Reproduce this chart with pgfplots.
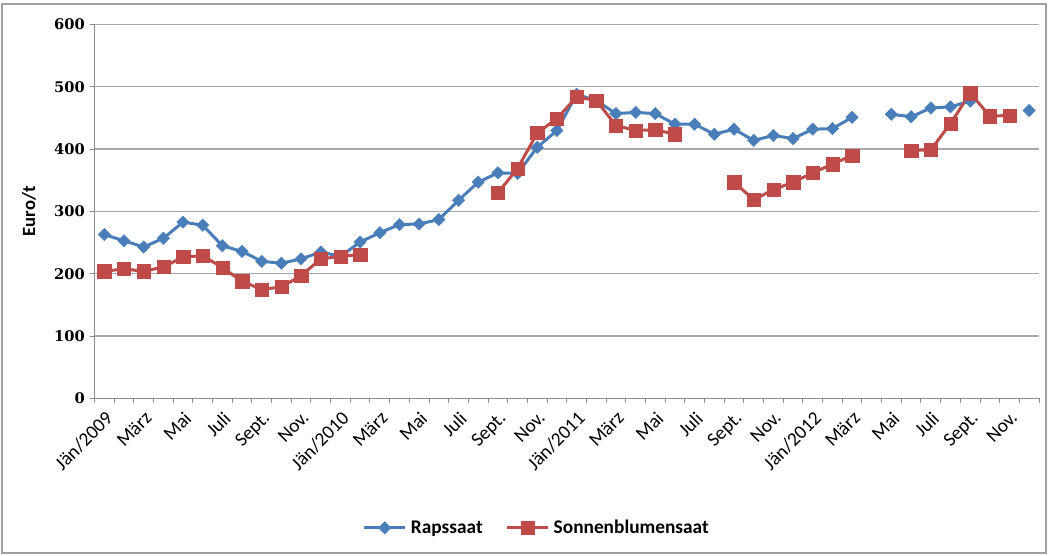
\documentclass[border=0pt]{standalone}
\usepackage{fontspec}
\setmainfont{Carlito}
\newfontfamily\tickserif{DejaVu Serif}
\usepackage{pgfplots}
\usepackage{pgfplotstable}
\pgfplotsset{compat=1.18}
\definecolor{rblue}{RGB}{74,126,187}
\definecolor{rred}{RGB}{190,75,72}
\definecolor{gridgray}{RGB}{170,170,170}
\definecolor{axgray}{RGB}{140,140,140}
\definecolor{framegray}{RGB}{160,160,160}

\pgfplotstableread{
m raps sonne
0 263 204
1 253 208
2 243 204
3 257 211
4 283 227
5 278 229
6 245 210
7 236 188
8 220 175
9 217 179
10 224 197
11 235 224
12 228 228
13 251 231
14 266 nan
15 279 nan
16 280 nan
17 287 nan
18 318 nan
19 347 nan
20 362 330
21 361 369
22 403 426
23 430 449
24 488 484
25 478 478
26 457 438
27 459 430
28 457 431
29 440 424
30 440 nan
31 424 nan
32 432 347
33 414 319
34 422 335
35 417 347
36 432 362
37 433 376
38 451 390
39 nan nan
40 456 nan
41 452 398
42 466 399
43 468 441
44 477 490
45 nan 453
46 nan 454
47 462 nan
}\datatable

\begin{document}
\begin{tikzpicture}
\useasboundingbox (0,0) rectangle (786.75pt,417pt);
\draw[framegray, line width=0.9pt] (1.5pt,2.25pt) rectangle (784.5pt,414pt);
\begin{axis}[
  at={(70.875pt,118.125pt)}, anchor=south west,
  width=708.4pt, height=280.5pt, scale only axis,
  xmin=-0.5, xmax=47.5, ymin=0, ymax=600,
  ytick={0,100,...,600},
  xtick={0,2,...,46},
  xticklabels={Jän/2009,März,Mai,Juli,Sept.,Nov.,Jän/2010,März,Mai,Juli,Sept.,Nov.,Jän/2011,März,Mai,Juli,Sept.,Nov.,Jän/2012,März,Mai,Juli,Sept.,Nov.},
  minor xtick={-0.5,0.5,...,47.5},
  tick align=outside,
  major x tick style={draw=none},
  major tick length=3.75pt, minor tick length=3.75pt,
  tick style={axgray, line width=0.75pt},
  axis x line*=bottom, axis y line*=left,
  axis line style={axgray, line width=1pt, -},
  ymajorgrids, grid style={gridgray, line width=1pt},
  /pgf/number format/assume math mode=true,
  x tick label style={rotate=45, anchor=north east, font=\fontsize{14.5}{14.5}\selectfont, inner sep=3.5pt},
  y tick label style={font=\tickserif\bfseries\fontsize{11}{11}\selectfont},
  ylabel={Euro/t},
  ylabel style={font=\bfseries\fontsize{14}{14}\selectfont, at={(axis description cs:-0.0693,0.5)}, anchor=center},
  unbounded coords=jump,
  legend columns=2,
  legend style={at={(axis description cs:0.4685,-0.346)}, anchor=center, draw=none, fill=none,
    font=\bfseries\fontsize{14.5}{14.5}\selectfont,
    /tikz/every odd column/.append style={column sep=1pt},
    /tikz/every even column/.append style={column sep=15pt}},
  legend image code/.code={\draw[mark repeat=2,mark phase=2,#1] plot coordinates {(0pt,0pt)(15.5pt,0pt)(31pt,0pt)};},
  clip=false,
]
\addplot[rblue, line width=2.25pt, mark=square*, mark size=3.3pt,
  mark options={rotate=45, fill=rblue, draw=rblue, line width=0.3pt}]
  table[x=m, y=raps] {\datatable};
\addlegendentry{Rapssaat}
\addplot[rred, line width=2.25pt, mark=square*, mark size=5pt,
  mark options={fill=rred, draw=rred, line width=0.3pt}]
  table[x=m, y=sonne] {\datatable};
\addlegendentry{Sonnenblumensaat}
\end{axis}
\end{tikzpicture}
\end{document}
